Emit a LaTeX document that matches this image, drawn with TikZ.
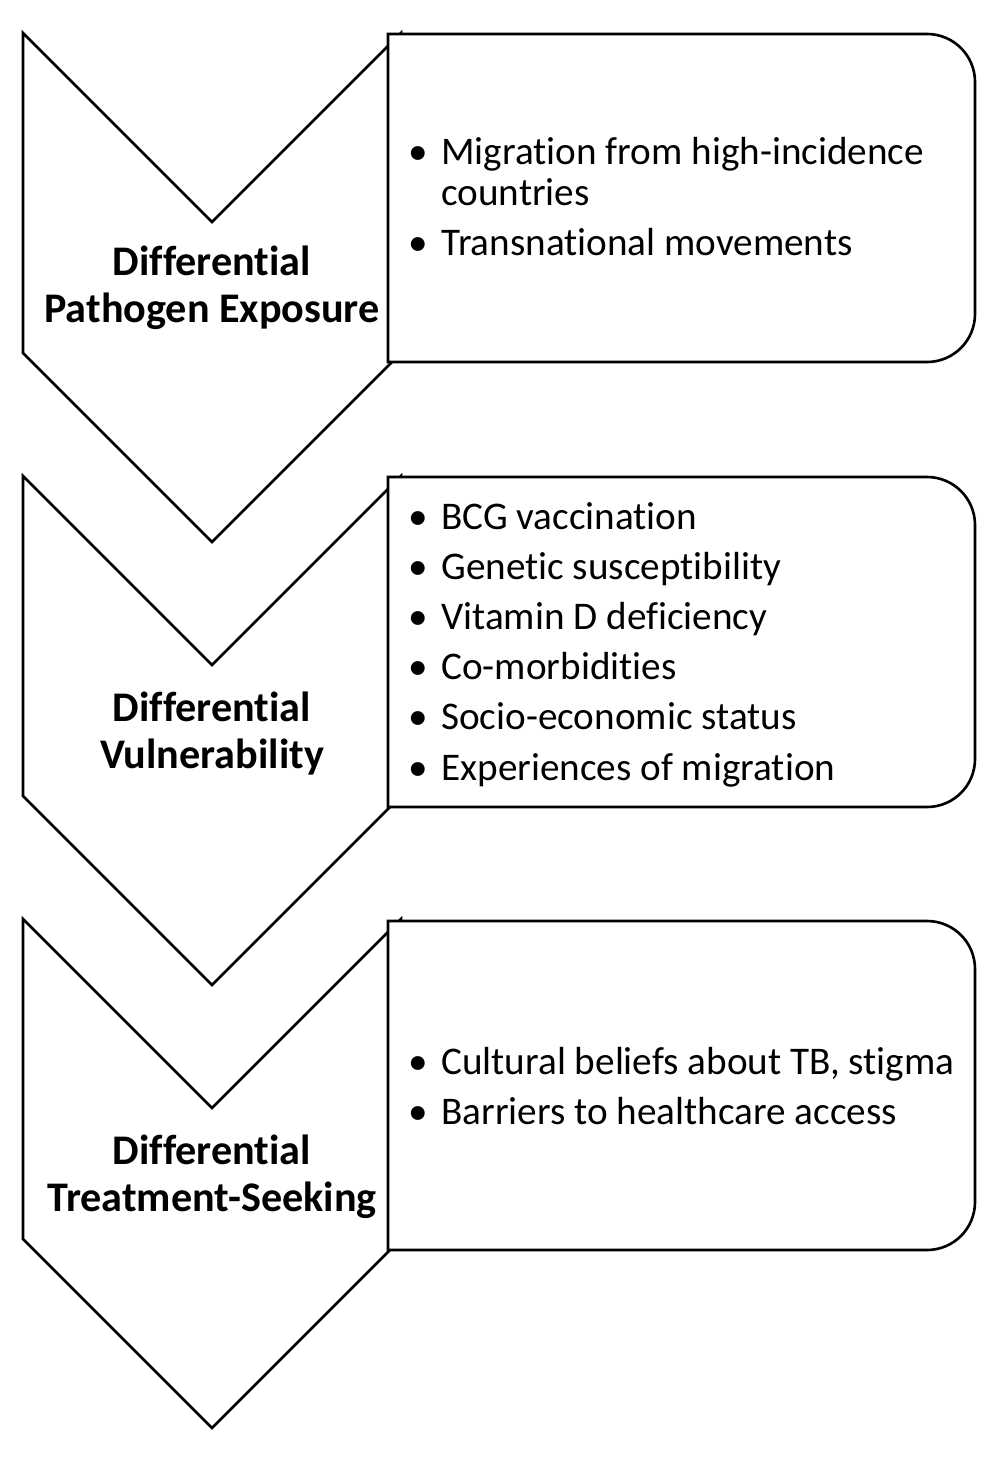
\documentclass[tikz,border=0pt]{standalone}
\usepackage{fontspec}
\setmainfont{Carlito}[Ligatures=NoCommon]
\usetikzlibrary{calc}

\begin{document}
\begin{tikzpicture}[x=0.02cm,y=-0.02cm,
	chevron/.style={draw, line width=1.5pt, fill=white, line join=miter},
	factorbox/.style={draw, line width=1.5pt, fill=white},
	stage/.style={font=\fontsize{24}{28}\selectfont\bfseries, inner sep=0pt, anchor=base},
	item/.style={font=\fontsize{22.3}{26}\selectfont, inner sep=0pt, anchor=base west}]

	\useasboundingbox (0,0) rectangle (1000,1462);

		% first step
		\draw[chevron] (23,33) -- (212,222) -- (401,33) -- (401,353) -- (212,542) -- (23,353) -- cycle;
		\draw[factorbox] (388,34) [rounded corners=0.96cm] -- (975,34) -- (975,362) [sharp corners] -- (388,362) -- cycle;

		\node[stage] (diff1) at (212,276) {Differential};
		\node[stage] (expo) at (212,323) {Pathogen Exposure};

		\node[item] (migr) at (441,165) {\llap{\textbullet\hspace{0.35em}}Migration from high-incidence};
		\node[item] (ctry) at (441,206) {countries};
		\node[item] (trans) at (441,256) {\llap{\textbullet\hspace{0.35em}}Transnational movements};

		% second step
		\draw[chevron] (23,476) -- (212,665) -- (401,476) -- (401,796) -- (212,985) -- (23,796) -- cycle;
		\draw[factorbox] (388,477) [rounded corners=0.96cm] -- (975,477) -- (975,807) [sharp corners] -- (388,807) -- cycle;

		\node[stage] (diff2) at (212,721) {Differential};
		\node[stage] (vuln) at (212,768) {Vulnerability};

		\node[item] (bcg) at (441,529) {\llap{\textbullet\hspace{0.35em}}BCG vaccination};
		\node[item] (gene) at (441,579) {\llap{\textbullet\hspace{0.35em}}Genetic susceptibility};
		\node[item] (vitd) at (441,629) {\llap{\textbullet\hspace{0.35em}}Vitamin D deficiency};
		\node[item] (comorb) at (441,679) {\llap{\textbullet\hspace{0.35em}}Co-morbidities};
		\node[item] (ses) at (441,729) {\llap{\textbullet\hspace{0.35em}}Socio-economic status};
		\node[item] (expmig) at (441,780) {\llap{\textbullet\hspace{0.35em}}Experiences of migration};

		% third step
		\draw[chevron] (23,919) -- (212,1108) -- (401,919) -- (401,1239) -- (212,1428) -- (23,1239) -- cycle;
		\draw[factorbox] (388,921) [rounded corners=0.96cm] -- (975,921) -- (975,1250) [sharp corners] -- (388,1250) -- cycle;

		\node[stage] (diff3) at (212,1164) {Differential};
		\node[stage] (treat) at (212,1211) {Treatment-Seeking};

		\node[item] (cult) at (441,1074) {\llap{\textbullet\hspace{0.35em}}Cultural beliefs about TB, stigma};
		\node[item] (barr) at (441,1124) {\llap{\textbullet\hspace{0.35em}}Barriers to healthcare access};

\end{tikzpicture}
\end{document}
